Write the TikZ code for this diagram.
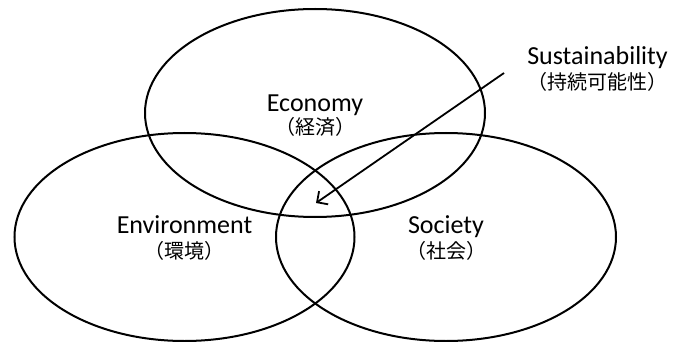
\documentclass[tikz,border=0pt]{standalone}
\usepackage{fontspec}
\setmainfont{Carlito}
\newfontfamily\cjk{Noto Sans CJK JP}
\usetikzlibrary{shapes.geometric,arrows.meta}
\tikzset{
  venn/.style={ellipse, draw=black, line width=2pt, minimum width=340pt, minimum height=208pt, inner sep=0pt},
  en/.style={anchor=base, inner sep=0pt, font=\fontsize{26}{28}\selectfont},
  jp/.style={anchor=base, inner sep=0pt, font=\cjk\fontsize{20}{22}\selectfont},
  pointer/.style={line width=1.8pt, -{Straight Barb[length=8pt,width=16pt,line width=1.8pt]}}
}
\begin{document}
\begin{tikzpicture}[x=1pt,y=-1pt]
\useasboundingbox (0,0) rectangle (680,342);
\node[venn] (eco) at (315,113) {};
\node[venn] (env) at (184.5,237) {};
\node[venn] (soc) at (446,237) {};
\node[en] (ecoT) at (315,112) {Economy};
\node[jp] (ecoJ) at (315,135) {（経済）};
\node[en] (envT) at (184.5,233) {Environment};
\node[jp] (envJ) at (184.5,258) {（環境）};
\node[en] (socT) at (446,233) {Society};
\node[jp] (socJ) at (446,258) {（社会）};
\node[en] (susT) at (597.5,65) {Sustainability};
\node[jp] (susJ) at (597.5,90) {（持続可能性）};
\coordinate (arrowstart) at (504,73);
\coordinate (arrowtip) at (316,203);
\draw[pointer] (arrowstart) -- (arrowtip);
\end{tikzpicture}
\end{document}
